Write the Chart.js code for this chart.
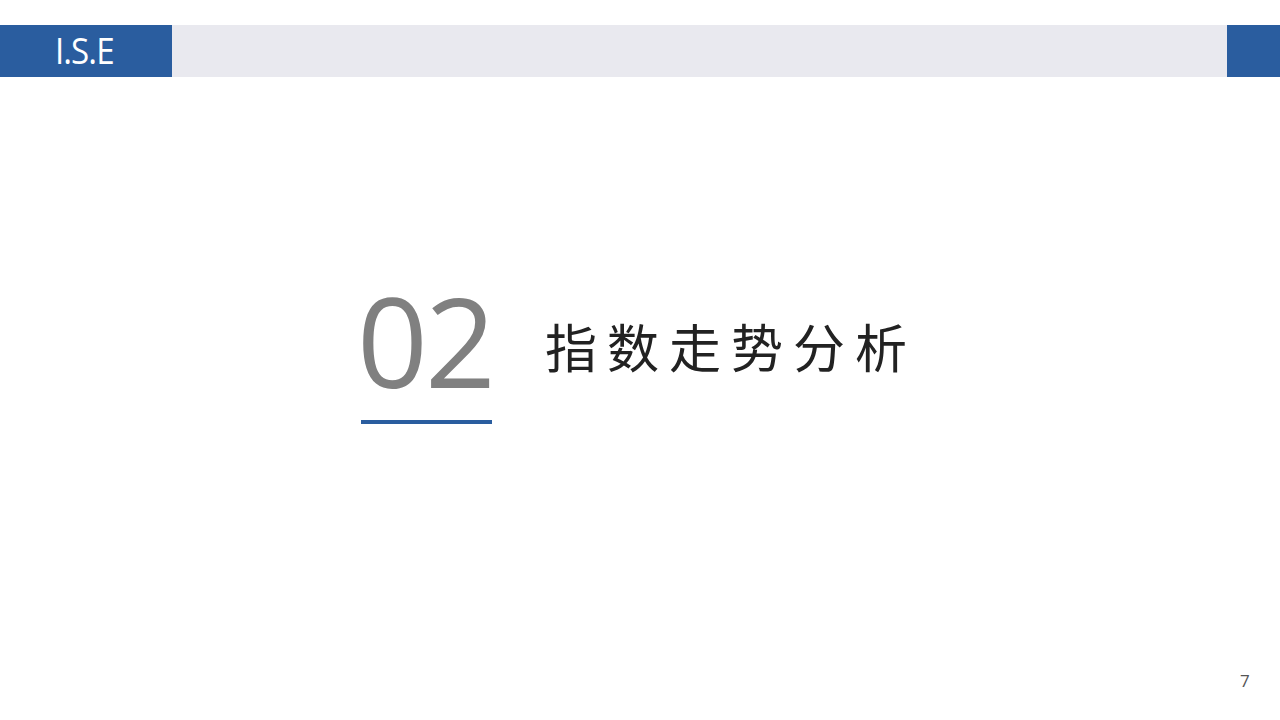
<!DOCTYPE html>
<html lang="zh">
<head>
<meta charset="utf-8">
<title>指数走势分析</title>
<script src="https://cdn.jsdelivr.net/npm/chart.js@4"></script>
<style>
  html, body { margin: 0; padding: 0; background: #fff; }
  #slide { position: relative; width: 1280px; height: 720px; overflow: hidden; background: #fff; }
  .bar { position: absolute; top: 25px; height: 52px; }
  #logo { left: 0; width: 172px; background: #2a5d9f; }
  #strip { left: 172px; width: 1055px; background: #e9e9ef; }
  #corner { left: 1227px; width: 53px; background: #2a5d9f; }
  #logo span {
    position: absolute; left: 55px; top: 4px;
    font-family: "Open Sans", "Noto Sans", sans-serif; font-size: 36px; line-height: 1.2; color: #fff;
    letter-spacing: -1px; transform: scaleX(0.92); transform-origin: left center;
  }
  #num {
    position: absolute; left: 357px; top: 278px;
    font-family: "Open Sans", "Noto Sans", sans-serif; font-weight: 400;
    font-size: 124px; line-height: 1; color: #808080; letter-spacing: -3px;
  }
  #rule { position: absolute; left: 361px; top: 420px; width: 131px; height: 4px; background: #2a5d9f; }
  #title {
    position: absolute; left: 545px; top: 320px;
    font-family: "Noto Sans CJK SC", sans-serif; font-size: 52px; line-height: 1;
    color: #222; letter-spacing: 10px;
  }
  #page {
    position: absolute; left: 1240px; top: 669px;
    font-family: "Open Sans", "Noto Sans", sans-serif; font-size: 17px; color: #555;
  }
  #chartBox { position: absolute; left: 0; top: 0; width: 1280px; height: 720px; pointer-events: none; }
</style>
</head>
<body>
<div id="slide">
  <div class="bar" id="logo"><span id="logoText"></span></div>
  <div class="bar" id="strip"></div>
  <div class="bar" id="corner"></div>
  <div id="num"></div>
  <div id="rule"></div>
  <div id="title"></div>
  <div id="page"></div>
  <div id="chartBox"><canvas id="sectionChart"></canvas></div>
</div>
<script>
// this slide is a section divider: no series, only its texts
const logoText = 'I.S.E';
const sectionNumber = '02';
const sectionTitle = '指数走势分析';
const pageNumber = '7';
const categories = [];
const values = [];

document.getElementById('logoText').textContent = logoText;
document.getElementById('num').textContent = sectionNumber;
document.getElementById('title').textContent = sectionTitle;
document.getElementById('page').textContent = pageNumber;

// empty chart layer, kept so the page still goes through Chart.js
var sectionChart = new Chart(
  document.getElementById('sectionChart'),
  {
    type: 'bar',
    data: { labels: categories, datasets: [{ data: values }] },
    options: {
      responsive: true,
      maintainAspectRatio: false,
      animation: false,
      plugins: { legend: { display: false }, tooltip: { enabled: false } },
      scales: { x: { display: false }, y: { display: false } }
    }
  }
);
</script>
</body>
</html>
